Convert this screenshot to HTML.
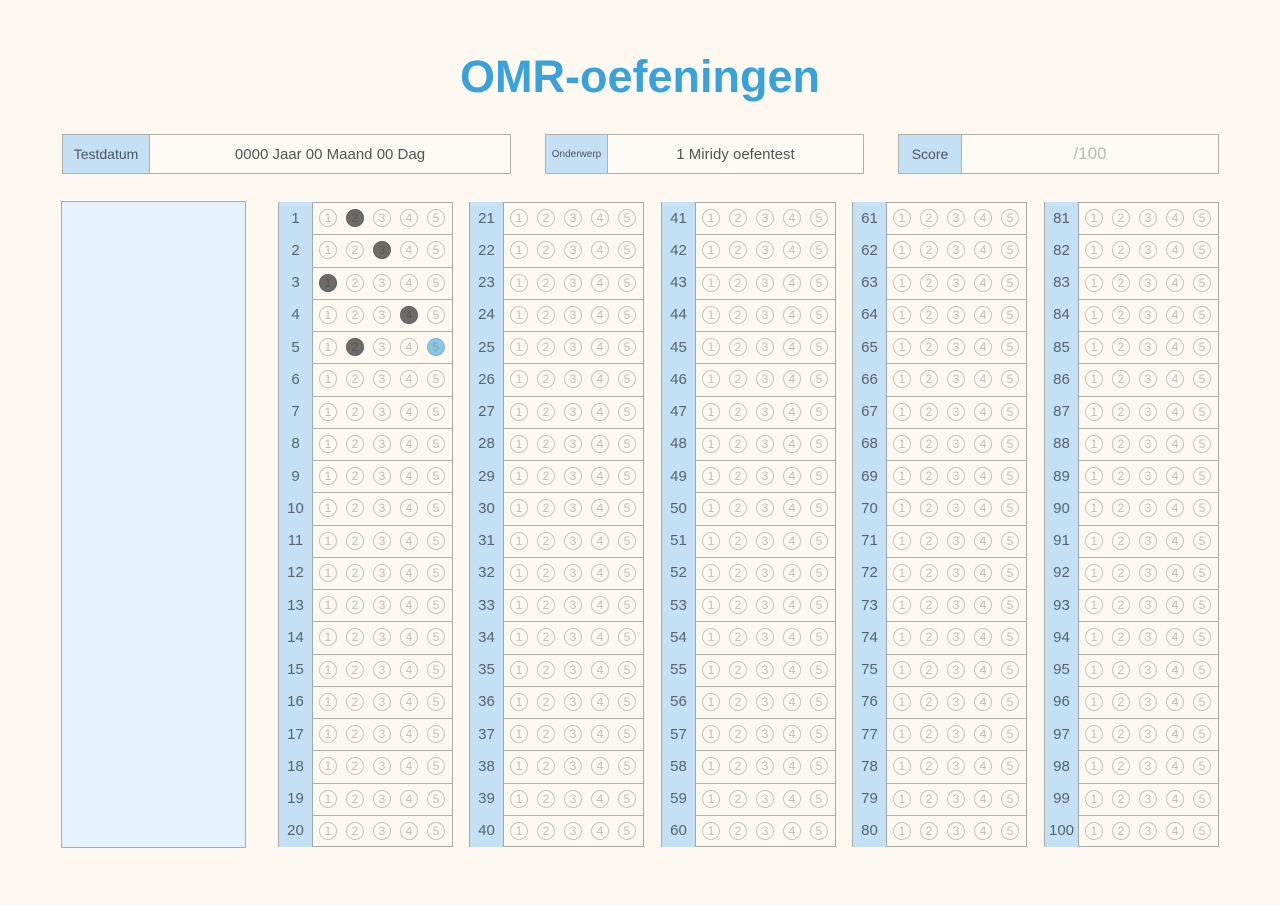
<!DOCTYPE html>
<html><head><meta charset="utf-8">
<style>
body{margin:0;width:1280px;height:905px;background:#fdf9f1;font-family:"Liberation Sans",sans-serif;position:relative;overflow:hidden}
.abs{position:absolute;box-sizing:border-box}
.title{left:0;width:1280px;top:51px;text-align:center;font-size:45px;font-weight:bold;color:#3aa2db}
.box{border:1.5px solid #b3b0aa;background:#fefbf4;top:134px;height:40px;display:flex}
.lab{background:#c4e0f4;border-right:1.5px solid #b3b0aa;color:#4a5560;display:flex;align-items:center;justify-content:center;font-size:14px}
.val{flex:1;display:flex;align-items:center;justify-content:center;color:#555;font-size:15px}
.panel{left:61px;top:201px;width:185px;height:647px;background:#e3f2fc;border:1px solid #7fb8e0}
.col{border:1.5px solid #aaa8a2;background:#fdf9f1}
.row{position:absolute;left:0;right:0;border-bottom:1.5px solid #b3b0aa}
.num{position:absolute;left:0;top:0;bottom:0;width:33px;background:#c4e0f4;border-right:1.5px solid #9fa8b0;color:#55636f;font-size:15px;display:flex;align-items:center;justify-content:center}
.b{position:absolute;width:18px;height:18px;border-radius:50%;border:1px solid #c6c4be;color:#c0beb8;font-size:12px;display:flex;align-items:center;justify-content:center;box-sizing:border-box}
.b.f{background:#6e6c69;border-color:#5f5d5a;color:#555}
.b.c{background:#8ec5e2;border-color:#7ab6d6;color:#6aa}
</style></head><body>
<div class="abs title">OMR-oefeningen</div>
<div class="abs box" style="left:62px;width:449px"><div class="lab" style="width:86px">Testdatum</div><div class="val">0000 Jaar 00 Maand 00 Dag</div></div>
<div class="abs box" style="left:545px;width:319px"><div class="lab" style="width:61px;font-size:10px">Onderwerp</div><div class="val">1 Miridy oefentest</div></div>
<div class="abs box" style="left:898px;width:321px"><div class="lab" style="width:62px">Score</div><div class="val" style="color:#bbb;font-size:17px">/100</div></div>
<div class="abs panel"></div>
<div id="sheet"></div>
<script>
const colLefts=[278,469,661,852,1044];
const filled={1:2,2:3,3:1,4:4,5:2};
const correct={5:5};
const glyphs=['1','2','3','4','5'];
const sheet=document.getElementById('sheet');
const top0=202,rowH=(847-202)/20;
colLefts.forEach((cl,ci)=>{
  const col=document.createElement('div');
  col.className='abs col';
  
  
  col.style.cssText=`left:${cl}px;top:${top0}px;width:175px;height:${847-top0}px`;
  for(let r=0;r<20;r++){
    const q=ci*20+r+1;
    const row=document.createElement('div');
    row.className='row';
    
    
    row.style.top=(r*rowH-1)+'px';row.style.height=rowH+'px';
    if(r==19)row.style.borderBottom='none';
    const n=document.createElement('div');n.className='num';n.textContent=q;
    
    
    row.appendChild(n);
    for(let k=0;k<5;k++){
      const b=document.createElement('div');
      b.className='b'+(filled[q]==k+1?' f':'')+(correct[q]==k+1?' c':'');
      b.textContent=glyphs[k];
      
      
      b.style.left=(50+k*27-9-1)+'px';b.style.top=(rowH/2-9)+'px';
      row.appendChild(b);
    }
    col.appendChild(row);
  }
  sheet.appendChild(col);
});
</script>
</body></html>
